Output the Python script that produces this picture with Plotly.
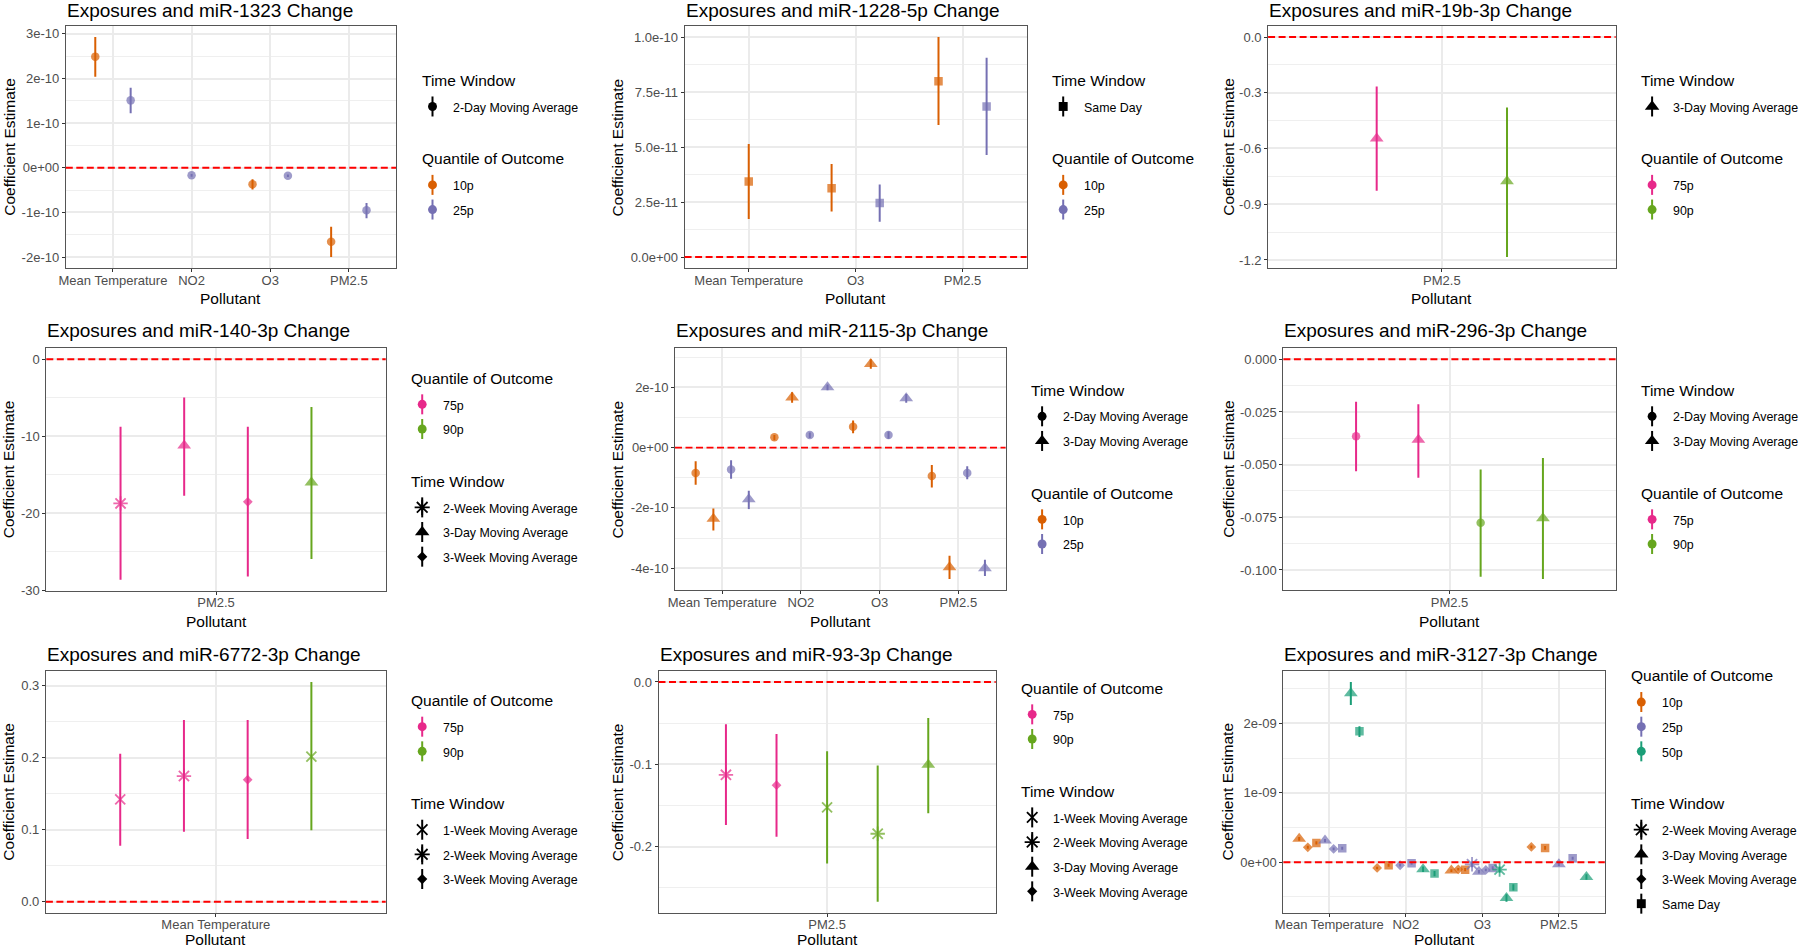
import plotly.graph_objects as go

W, H = 1800, 949
FONT = "Liberation Sans, Arial, Helvetica, sans-serif"

D2 = "2-Day Moving Average"
D3 = "3-Day Moving Average"
W1 = "1-Week Moving Average"
W2 = "2-Week Moving Average"
W3 = "3-Week Moving Average"
SD = "Same Day"
MT = "Mean Temperature"

QUANTILE_COLORS = {"10p": "#D95F02", "25p": "#7570B3", "50p": "#1B9E77",
                   "75p": "#E7298A", "90p": "#66A61E"}
WINDOW_SYMBOLS = {W1: "x-thin", D2: "circle", W2: "asterisk", D3: "triangle-up",
                  W3: "diamond", SD: "square"}
SYMBOL_SIZES = {"x-thin": 10, "circle": 8.5, "asterisk": 12, "triangle-up": 12,
                "diamond": 7.5, "square": 8.5}
LINE_SYMBOLS = {"x-thin", "asterisk"}

# ---------------- data ----------------
p1_title = "Exposures and miR-1323 Change"
p1_categories = [MT, "NO2", "O3", "PM2.5"]
p1_pollutant = [MT, MT, "NO2", "O3", "O3", "PM2.5", "PM2.5"]
p1_quantile = ["10p", "25p", "25p", "10p", "25p", "10p", "25p"]
p1_window = [D2, D2, D2, D2, D2, D2, D2]
p1_estimate = [2.49e-10, 1.51e-10, -0.17e-10, -0.37e-10, -0.18e-10, -1.66e-10, -0.95e-10]
p1_lower = [2.04e-10, 1.22e-10, -0.20e-10, -0.49e-10, -0.21e-10, -2.00e-10, -1.13e-10]
p1_upper = [2.93e-10, 1.79e-10, -0.14e-10, -0.26e-10, -0.15e-10, -1.32e-10, -0.79e-10]
p1_yticks = [-2e-10, -1e-10, 0, 1e-10, 2e-10, 3e-10]
p1_yticklabels = ["-2e-10", "-1e-10", "0e+00", "1e-10", "2e-10", "3e-10"]

p2_title = "Exposures and miR-1228-5p Change"
p2_categories = [MT, "O3", "PM2.5"]
p2_pollutant = [MT, "O3", "O3", "PM2.5", "PM2.5"]
p2_quantile = ["10p", "10p", "25p", "10p", "25p"]
p2_window = [SD, SD, SD, SD, SD]
p2_estimate = [3.43e-11, 3.13e-11, 2.45e-11, 7.99e-11, 6.84e-11]
p2_lower = [1.73e-11, 2.07e-11, 1.60e-11, 6.00e-11, 4.64e-11]
p2_upper = [5.14e-11, 4.23e-11, 3.30e-11, 10.0e-11, 9.06e-11]
p2_yticks = [0, 2.5e-11, 5e-11, 7.5e-11, 1e-10]
p2_yticklabels = ["0.0e+00", "2.5e-11", "5.0e-11", "7.5e-11", "1.0e-10"]

p3_title = "Exposures and miR-19b-3p Change"
p3_categories = ["PM2.5"]
p3_pollutant = ["PM2.5", "PM2.5"]
p3_quantile = ["75p", "90p"]
p3_window = [D3, D3]
p3_estimate = [-0.546, -0.776]
p3_lower = [-0.828, -1.184]
p3_upper = [-0.266, -0.379]
p3_yticks = [-1.2, -0.9, -0.6, -0.3, 0.0]
p3_yticklabels = ["-1.2", "-0.9", "-0.6", "-0.3", "0.0"]

p4_title = "Exposures and miR-140-3p Change"
p4_categories = ["PM2.5"]
p4_pollutant = ["PM2.5", "PM2.5", "PM2.5", "PM2.5"]
p4_quantile = ["75p", "75p", "75p", "90p"]
p4_window = [W2, D3, W3, D3]
p4_estimate = [-18.7, -11.2, -18.5, -16.0]
p4_lower = [-28.6, -17.7, -28.2, -25.9]
p4_upper = [-8.74, -4.96, -8.74, -6.2]
p4_yticks = [-30, -20, -10, 0]
p4_yticklabels = ["-30", "-20", "-10", "0"]

p5_title = "Exposures and miR-2115-3p Change"
p5_categories = [MT, "NO2", "O3", "PM2.5"]
p5_pollutant = [MT, MT, MT, MT, "NO2", "NO2", "NO2", "NO2",
                "O3", "O3", "O3", "O3", "PM2.5", "PM2.5", "PM2.5", "PM2.5"]
p5_quantile = ["10p", "10p", "25p", "25p", "10p", "10p", "25p", "25p",
               "10p", "10p", "25p", "25p", "10p", "10p", "25p", "25p"]
p5_window = [D2, D3, D2, D3, D2, D3, D2, D3, D2, D3, D2, D3, D2, D3, D2, D3]
p5_estimate = [-0.84e-10, -2.36e-10, -0.73e-10, -1.71e-10,
               0.34e-10, 1.66e-10, 0.42e-10, 2.00e-10,
               0.69e-10, 2.77e-10, 0.42e-10, 1.64e-10,
               -0.94e-10, -3.97e-10, -0.84e-10, -4.00e-10]
p5_lower = [-1.23e-10, -2.75e-10, -1.03e-10, -2.04e-10,
            0.24e-10, 1.49e-10, 0.32e-10, 1.90e-10,
            0.48e-10, 2.62e-10, 0.29e-10, 1.49e-10,
            -1.32e-10, -4.36e-10, -1.05e-10, -4.26e-10]
p5_upper = [-0.45e-10, -2.02e-10, -0.42e-10, -1.43e-10,
            0.42e-10, 1.84e-10, 0.50e-10, 2.09e-10,
            0.90e-10, 2.93e-10, 0.53e-10, 1.78e-10,
            -0.58e-10, -3.59e-10, -0.62e-10, -3.72e-10]
p5_yticks = [-4e-10, -2e-10, 0, 2e-10]
p5_yticklabels = ["-4e-10", "-2e-10", "0e+00", "2e-10"]

p6_title = "Exposures and miR-296-3p Change"
p6_categories = ["PM2.5"]
p6_pollutant = ["PM2.5", "PM2.5", "PM2.5", "PM2.5"]
p6_quantile = ["75p", "75p", "90p", "90p"]
p6_window = [D2, D3, D2, D3]
p6_estimate = [-0.0365, -0.0382, -0.0776, -0.0754]
p6_lower = [-0.0531, -0.0562, -0.1032, -0.1043]
p6_upper = [-0.0201, -0.0213, -0.0523, -0.0468]
p6_yticks = [-0.1, -0.075, -0.05, -0.025, 0.0]
p6_yticklabels = ["-0.100", "-0.075", "-0.050", "-0.025", "0.000"]

p7_title = "Exposures and miR-6772-3p Change"
p7_categories = [MT]
p7_pollutant = [MT, MT, MT, MT]
p7_quantile = ["75p", "75p", "75p", "90p"]
p7_window = [W1, W2, W3, W1]
p7_estimate = [0.1421, 0.1745, 0.1694, 0.2014]
p7_lower = [0.0778, 0.0972, 0.0870, 0.0991]
p7_upper = [0.2056, 0.2523, 0.2523, 0.3051]
p7_yticks = [0.0, 0.1, 0.2, 0.3]
p7_yticklabels = ["0.0", "0.1", "0.2", "0.3"]

p8_title = "Exposures and miR-93-3p Change"
p8_categories = ["PM2.5"]
p8_pollutant = ["PM2.5", "PM2.5", "PM2.5", "PM2.5", "PM2.5"]
p8_quantile = ["75p", "75p", "90p", "90p", "90p"]
p8_window = [W2, W3, W1, W2, D3]
p8_estimate = [-0.1127, -0.1253, -0.1523, -0.1842, -0.1004]
p8_lower = [-0.1737, -0.1879, -0.2202, -0.2667, -0.1592]
p8_upper = [-0.0513, -0.0630, -0.0840, -0.1014, -0.0436]
p8_yticks = [-0.2, -0.1, 0.0]
p8_yticklabels = ["-0.2", "-0.1", "0.0"]

p9_title = "Exposures and miR-3127-3p Change"
p9_categories = [MT, "NO2", "O3", "PM2.5"]
p9_pollutant = [MT, MT, MT, MT, MT, MT, MT, MT,
                "NO2", "NO2", "NO2", "NO2", "NO2", "NO2",
                "O3", "O3", "O3", "O3", "O3", "O3", "O3", "O3", "O3", "O3",
                "PM2.5", "PM2.5", "PM2.5", "PM2.5", "PM2.5"]
p9_quantile = ["10p", "10p", "10p", "25p", "25p", "25p", "50p", "50p",
               "10p", "10p", "25p", "25p", "50p", "50p",
               "10p", "10p", "10p", "25p", "25p", "25p", "25p", "50p", "50p", "50p",
               "10p", "10p", "25p", "25p", "50p"]
p9_window = [D3, W3, SD, D3, W3, SD, D3, SD,
             W3, SD, W3, SD, D3, SD,
             D3, W3, SD, W2, D3, W3, SD, W2, D3, SD,
             W3, SD, D3, SD, D3]
p9_estimate = [0.337e-9, 0.216e-9, 0.279e-9, 0.312e-9, 0.192e-9, 0.202e-9, 2.433e-9, 1.885e-9,
               -0.082e-9, -0.043e-9, -0.043e-9, -0.014e-9, -0.101e-9, -0.163e-9,
               -0.120e-9, -0.101e-9, -0.106e-9, -0.029e-9, -0.135e-9, -0.111e-9, -0.082e-9,
               -0.106e-9, -0.514e-9, -0.361e-9,
               0.221e-9, 0.207e-9, -0.029e-9, 0.058e-9, -0.212e-9]
p9_lower = [0.310e-9, 0.195e-9, 0.255e-9, 0.290e-9, 0.172e-9, 0.180e-9, 2.264e-9, 1.803e-9,
            -0.100e-9, -0.065e-9, -0.060e-9, -0.034e-9, -0.140e-9, -0.200e-9,
            -0.140e-9, -0.118e-9, -0.128e-9, -0.070e-9, -0.160e-9, -0.128e-9, -0.105e-9,
            -0.150e-9, -0.568e-9, -0.405e-9,
            0.200e-9, 0.180e-9, -0.055e-9, 0.035e-9, -0.250e-9]
p9_upper = [0.365e-9, 0.237e-9, 0.303e-9, 0.335e-9, 0.212e-9, 0.224e-9, 2.596e-9, 1.957e-9,
            -0.064e-9, -0.021e-9, -0.026e-9, 0.006e-9, -0.062e-9, -0.126e-9,
            -0.100e-9, -0.084e-9, -0.084e-9, 0.012e-9, -0.110e-9, -0.094e-9, -0.059e-9,
            -0.062e-9, -0.460e-9, -0.317e-9,
            0.242e-9, 0.234e-9, -0.003e-9, 0.081e-9, -0.174e-9]
p9_yticks = [0, 1e-9, 2e-9]
p9_yticklabels = ["0e+00", "1e-09", "2e-09"]

# ---------------- layout (pixel geometry of each panel) ----------------
panels = [
    dict(title=p1_title, cats=p1_categories, pol=p1_pollutant, q=p1_quantile, w=p1_window,
         est=p1_estimate, lo=p1_lower, hi=p1_upper, yt=p1_yticks, ytl=p1_yticklabels,
         box=(65.8, 26, 396.0, 268), ytitle_x=7.3, first="window"),
    dict(title=p2_title, cats=p2_categories, pol=p2_pollutant, q=p2_quantile, w=p2_window,
         est=p2_estimate, lo=p2_lower, hi=p2_upper, yt=p2_yticks, ytl=p2_yticklabels,
         box=(684.6, 26, 1026.7, 268), ytitle_x=615.9, first="window"),
    dict(title=p3_title, cats=p3_categories, pol=p3_pollutant, q=p3_quantile, w=p3_window,
         est=p3_estimate, lo=p3_lower, hi=p3_upper, yt=p3_yticks, ytl=p3_yticklabels,
         box=(1268.1, 26, 1615.6, 268), ytitle_x=1226.2, first="window"),
    dict(title=p4_title, cats=p4_categories, pol=p4_pollutant, q=p4_quantile, w=p4_window,
         est=p4_estimate, lo=p4_lower, hi=p4_upper, yt=p4_yticks, ytl=p4_yticklabels,
         box=(46.3, 348.3, 385.7, 590.7), ytitle_x=7.3, first="quantile"),
    dict(title=p5_title, cats=p5_categories, pol=p5_pollutant, q=p5_quantile, w=p5_window,
         est=p5_estimate, lo=p5_lower, hi=p5_upper, yt=p5_yticks, ytl=p5_yticklabels,
         box=(675.0, 348.3, 1005.6, 590), ytitle_x=615.9, first="window"),
    dict(title=p6_title, cats=p6_categories, pol=p6_pollutant, q=p6_quantile, w=p6_window,
         est=p6_estimate, lo=p6_lower, hi=p6_upper, yt=p6_yticks, ytl=p6_yticklabels,
         box=(1283.4, 348.3, 1615.6, 590), ytitle_x=1226.2, first="window"),
    dict(title=p7_title, cats=p7_categories, pol=p7_pollutant, q=p7_quantile, w=p7_window,
         est=p7_estimate, lo=p7_lower, hi=p7_upper, yt=p7_yticks, ytl=p7_yticklabels,
         box=(45.9, 671, 385.7, 912.7), ytitle_x=7.3, first="quantile"),
    dict(title=p8_title, cats=p8_categories, pol=p8_pollutant, q=p8_quantile, w=p8_window,
         est=p8_estimate, lo=p8_lower, hi=p8_upper, yt=p8_yticks, ytl=p8_yticklabels,
         box=(658.5, 671, 995.7, 912.7), ytitle_x=615.9, first="quantile"),
    dict(title=p9_title, cats=p9_categories, pol=p9_pollutant, q=p9_quantile, w=p9_window,
         est=p9_estimate, lo=p9_lower, hi=p9_upper, yt=p9_yticks, ytl=p9_yticklabels,
         box=(1283.4, 671, 1604.8, 912.7), ytitle_x=1226.2, first="quantile"),
]
ROW_TITLE_Y = {26: 11.0, 348.3: 331.0, 671: 654.5}
ROW_XTITLE_Y = {26: 299.0, 348.3: 621.5, 671: 939.5}

DODGE = 0.9
TITLE_TO_ENTRY = 27.4
ENTRY_STEP = 24.65
SECTION_GAP = 51.0

TITLE_SIZE = 19
AXIS_TITLE_SIZE = 15.5
TICK_SIZE = 13
LEG_TITLE_SIZE = 15.5
LEG_LABEL_SIZE = 12.4


def px(x):
    return x / W


def py(y):
    return 1 - y / H


def dodge_positions(pol, cats):
    counts = {c: pol.count(c) for c in cats}
    seen = {c: 0 for c in cats}
    xs = []
    for p in pol:
        n, k = counts[p], seen[p]
        seen[p] += 1
        xs.append(cats.index(p) + (k - (n - 1) / 2) * DODGE / n)
    return xs


fig = go.Figure()
annotations = []
shapes = []
layout_axes = {}

for i, pnl in enumerate(panels, start=1):
    x0, y0, x1, y1 = pnl["box"]
    xs = dodge_positions(pnl["pol"], pnl["cats"])
    xa = "x" if i == 1 else f"x{i}"
    ya = "y" if i == 1 else f"y{i}"
    for qn in sorted(set(pnl["q"])):
        idx = [j for j, v in enumerate(pnl["q"]) if v == qn]
        col = QUANTILE_COLORS[qn]
        syms = [WINDOW_SYMBOLS[pnl["w"][j]] for j in idx]
        fig.add_trace(go.Scatter(
            x=[xs[j] for j in idx],
            y=[pnl["est"][j] for j in idx],
            mode="markers",
            xaxis=xa, yaxis=ya,
            showlegend=False,
            marker=dict(symbol=syms, color=col,
                        size=[SYMBOL_SIZES[s] for s in syms],
                        line=dict(color=col,
                                  width=[1.8 if s in LINE_SYMBOLS else 0 for s in syms])),
            error_y=dict(type="data", symmetric=False,
                         array=[pnl["hi"][j] - pnl["est"][j] for j in idx],
                         arrayminus=[pnl["est"][j] - pnl["lo"][j] for j in idx],
                         color=col, thickness=2, width=0),
        ))

    # y range as ggplot: data + hline at 0, expanded by 5%
    lo = min(min(pnl["lo"]), 0.0)
    hi = max(max(pnl["hi"]), 0.0)
    pad = 0.05 * (hi - lo)
    yt = pnl["yt"]
    step = yt[1] - yt[0]
    minor = [yt[0] - step / 2 + k * step for k in range(len(yt) + 1)]
    minor = [m for m in minor if lo - pad <= m <= hi + pad]
    ncat = len(pnl["cats"])

    common = dict(showline=True, mirror=True, linecolor="#555555", linewidth=1,
                  ticks="outside", ticklen=3, tickwidth=1, tickcolor="#333333",
                  tickfont=dict(size=TICK_SIZE, color="#4D4D4D", family=FONT),
                  showgrid=True, gridcolor="#EBEBEB", gridwidth=1.6, zeroline=False,
                  fixedrange=True)
    layout_axes["xaxis" if i == 1 else f"xaxis{i}"] = dict(
        domain=[px(x0), px(x1)], anchor=ya,
        range=[-0.6, ncat - 1 + 0.6], tickmode="array",
        tickvals=list(range(ncat)), ticktext=pnl["cats"],
        ticklabelstandoff=-3, **common)
    layout_axes["yaxis" if i == 1 else f"yaxis{i}"] = dict(
        domain=[py(y1), py(y0)], anchor=xa,
        range=[lo - pad, hi + pad], tickmode="array",
        tickvals=yt, ticktext=pnl["ytl"],
        minor=dict(tickmode="array", tickvals=minor, showgrid=True,
                   gridcolor="#EFEFEF", gridwidth=0.8, ticks=""),
        **common)

    shapes.append(dict(type="line", xref=f"{xa} domain", x0=0, x1=1, yref=ya, y0=0, y1=0,
                       line=dict(color="#FF0000", width=1.9, dash="7px,3.5px"),
                       layer="above"))

    # title and axis titles
    annotations.append(dict(text=pnl["title"], x=px(x0 - 1), y=py(ROW_TITLE_Y[y0]),
                            xref="paper", yref="paper", xanchor="left", yanchor="middle",
                            showarrow=False,
                            font=dict(size=TITLE_SIZE, color="#000000", family=FONT)))
    annotations.append(dict(text="Pollutant", x=px((x0 + x1) / 2), y=py(ROW_XTITLE_Y[y0]),
                            xref="paper", yref="paper", xanchor="center", yanchor="middle",
                            showarrow=False,
                            font=dict(size=AXIS_TITLE_SIZE, color="#000000", family=FONT)))
    annotations.append(dict(text="Coefficient Estimate", x=px(pnl["ytitle_x"] + 1.5),
                            y=py((y0 + y1) / 2), textangle=-90,
                            xref="paper", yref="paper", xanchor="center", yanchor="middle",
                            showarrow=False,
                            font=dict(size=AXIS_TITLE_SIZE, color="#000000", family=FONT)))

    # legend (drawn ggplot-style to the right of the panel)
    quants = sorted(set(pnl["q"]))
    wins = sorted(set(pnl["w"]))
    sec_q = ("Quantile of Outcome", [(v, QUANTILE_COLORS[v], "circle") for v in quants])
    sec_w = ("Time Window", [(v, "#000000", WINDOW_SYMBOLS[v]) for v in wins])
    sections = [sec_w, sec_q] if pnl["first"] == "window" else [sec_q, sec_w]
    total = 0.0
    for si, (_, ents) in enumerate(sections):
        total += TITLE_TO_ENTRY + (len(ents) - 1) * ENTRY_STEP
        if si < len(sections) - 1:
            total += SECTION_GAP
    cy = (y0 + y1) / 2 - total / 2 - 1.5
    lx = x1 + 24.7
    for si, (ttl, ents) in enumerate(sections):
        annotations.append(dict(text=ttl, x=px(lx - 1), y=py(cy), xref="paper", yref="paper",
                                xanchor="left", yanchor="middle", showarrow=False,
                                font=dict(size=LEG_TITLE_SIZE, color="#000000", family=FONT)))
        ey = cy + TITLE_TO_ENTRY
        for (lab, col, sym) in ents:
            annotations.append(dict(text=lab, x=px(lx + 30.5), y=py(ey), xref="paper",
                                    yref="paper", xanchor="left", yanchor="middle",
                                    showarrow=False,
                                    font=dict(size=LEG_LABEL_SIZE, color="#000000",
                                              family=FONT)))
            fig.add_trace(go.Scatter(
                x=[lx + 11.8], y=[ey - 1.2], mode="markers", xaxis="x10", yaxis="y10",
                showlegend=False, hoverinfo="skip",
                marker=dict(symbol=sym, color=col, size=SYMBOL_SIZES[sym] * 1.05,
                            line=dict(color=col, width=1.8 if sym in LINE_SYMBOLS else 0)),
                error_y=dict(type="constant", value=10, color=col, thickness=2, width=0)))
            ey += ENTRY_STEP
        cy = ey - ENTRY_STEP + SECTION_GAP

layout_axes["xaxis10"] = dict(domain=[0, 1], range=[0, W], visible=False, fixedrange=True,
                              anchor="y10")
layout_axes["yaxis10"] = dict(domain=[0, 1], range=[H, 0], visible=False, fixedrange=True,
                              anchor="x10")

fig.update_layout(
    width=W, height=H, autosize=False,
    margin=dict(l=0, r=0, t=0, b=0, pad=0, autoexpand=False),
    paper_bgcolor="#FFFFFF", plot_bgcolor="rgba(0,0,0,0)",
    font=dict(family=FONT, color="#000000"),
    showlegend=False,
    annotations=annotations,
    shapes=shapes,
    **layout_axes,
)

fig.write_html("out.html", config={"displayModeBar": False},
               post_script="document.body.style.margin='0';"
                           "document.body.style.overflow='hidden';")
